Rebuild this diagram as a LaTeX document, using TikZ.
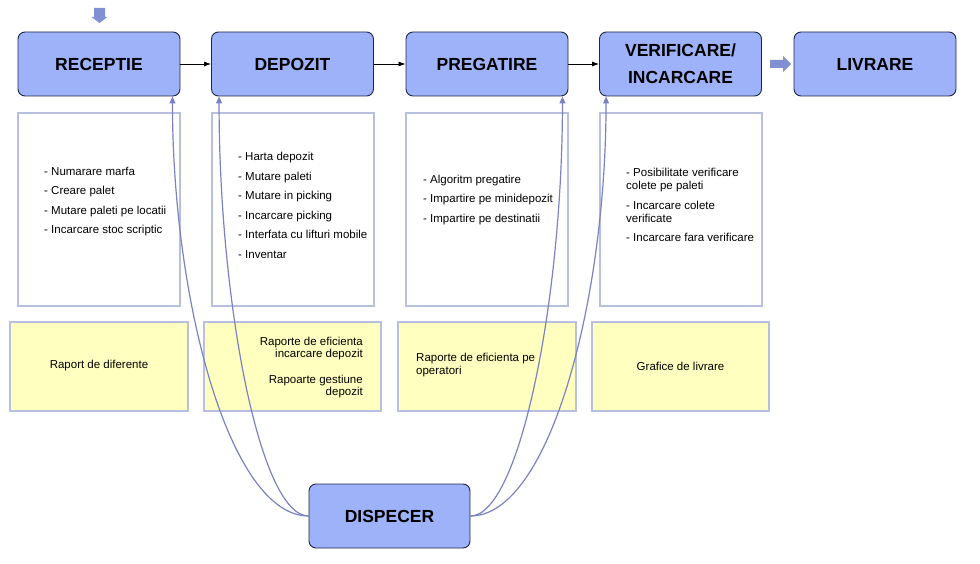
\documentclass[tikz,border=0pt]{standalone}
\usepackage{fontspec}
\setmainfont{Liberation Sans}
\usetikzlibrary{arrows.meta,calc}
\definecolor{boxblue}{RGB}{158,178,250}
\definecolor{boxedge}{RGB}{30,38,70}
\definecolor{paneledge}{RGB}{184,192,224}
\definecolor{noteyellow}{RGB}{255,255,192}
\definecolor{curveblue}{RGB}{122,130,192}
\definecolor{blockblue}{RGB}{128,144,210}
\tikzset{
  stage/.style={draw=boxedge, fill=boxblue, rounded corners=7pt, line width=0.9pt,
    minimum width=162pt, minimum height=64pt, inner sep=0pt,
    font=\fontsize{17.5}{21}\selectfont\bfseries, align=center},
  panel/.style={draw=paneledge, line width=2pt, minimum width=162pt, minimum height=193pt, inner sep=0pt},
  note/.style={draw=paneledge, fill=noteyellow, line width=2pt, minimum width=178pt, minimum height=89pt, inner sep=0pt},
  listtext/.style={inner sep=0pt, align=left, font=\fontsize{11.5}{13}\selectfont},
  notetext/.style={inner sep=0pt, font=\fontsize{11.5}{12}\selectfont},
  flow/.style={-{Latex[length=7pt,width=5pt]}, line width=0.8pt},
  feed/.style={draw=curveblue, line width=1.2pt, -{Triangle[length=7pt,width=6pt]}},
}
\begin{document}
\begin{tikzpicture}[x=1pt,y=-1pt]
\useasboundingbox (0,0) rectangle (980,564);
% stages
\node[stage] (rec) at (99,64) {RECEPTIE};
\node[stage] (dep) at (292.5,64) {DEPOZIT};
\node[stage] (preg) at (487,64) {PREGATIRE};
\node[stage] (ver) at (680.5,64) {VERIFICARE/\\[6pt]INCARCARE};
\node[stage] (liv) at (875,64) {LIVRARE};
\node[stage, minimum width=161pt] (disp) at (389.5,516) {DISPECER};
% panels
\node[panel] (recpanel) at (99,209.5) {};
\node[panel] (deppanel) at (292.5,209.5) {};
\node[panel] (pregpanel) at (487,209.5) {};
\node[panel] (verpanel) at (680.5,209.5) {};
% notes
\node[note] (recnote) at (99,366.5) {};
\node[note, minimum width=177pt] (depnote) at (292.5,366.5) {};
\node[note] (pregnote) at (487,366.5) {};
\node[note, minimum width=177pt] (vernote) at (680.5,366.5) {};
% list texts
\node[listtext, anchor=west] (reclist) at (44,201.5) {- Numarare marfa\\[6.5pt]- Creare palet\\[6.5pt]- Mutare paleti pe locatii\\[6.5pt]- Incarcare stoc scriptic};
\node[listtext, anchor=west] (deplist) at (238,205.5) {- Harta depozit\\[6.5pt]- Mutare paleti\\[6.5pt]- Mutare in picking\\[6.5pt]- Incarcare picking\\[6.5pt]- Interfata cu lifturi mobile\\[6.5pt]- Inventar};
\node[listtext, anchor=west] (preglist) at (423,200) {- Algoritm pregatire\\[6.5pt]- Impartire pe minidepozit\\[6.5pt]- Impartire pe destinatii};
\node[listtext, anchor=west] (verlist) at (626,204.5) {- Posibilitate verificare\\colete pe paleti\\[7pt]- Incarcare colete\\verificate\\[6pt]- Incarcare fara verificare};
% note texts
\node[notetext] (rectext) at (99,366) {Raport de diferente};
\node[notetext, align=right, anchor=east] (deptext) at (363,367.5) {Raporte de eficienta\\incarcare depozit\\[14pt]Rapoarte gestiune\\depozit};
\node[notetext, align=left, anchor=west, font=\fontsize{11.5}{13}\selectfont] (pregtext) at (416,365.5) {Raporte de eficienta pe\\operatori};
\node[notetext] (vertext) at (680.5,366) {Grafice de livrare};
% flow arrows
\draw[flow] (rec) -- (dep);
\draw[flow] (dep) -- (preg);
\draw[flow] (preg) -- (ver);
% block arrows
\fill[blockblue] (94,8) -- (105,8) -- (105,17) -- (107.5,17) -- (99.5,23) -- (91.5,17) -- (94,17) -- cycle;
\fill[blockblue] (770,60) -- (783,60) -- (783,56) -- (791,64) -- (783,72) -- (783,68) -- (770,68) -- cycle;
% dispatcher feeds
\draw[feed] (disp.west) .. controls +(-79,0) and +(0,204) .. ([xshift=-8pt]rec.south east);
\draw[feed] (disp.west) .. controls +(-49,0) and +(0,204) .. ([xshift=8pt]dep.south west);
\draw[feed] (disp.east) .. controls +(49,0) and +(0,204) .. ([xshift=-6pt]preg.south east);
\draw[feed] (disp.east) .. controls +(79,0) and +(0,204) .. ([xshift=7pt]ver.south west);
\end{tikzpicture}
\end{document}
